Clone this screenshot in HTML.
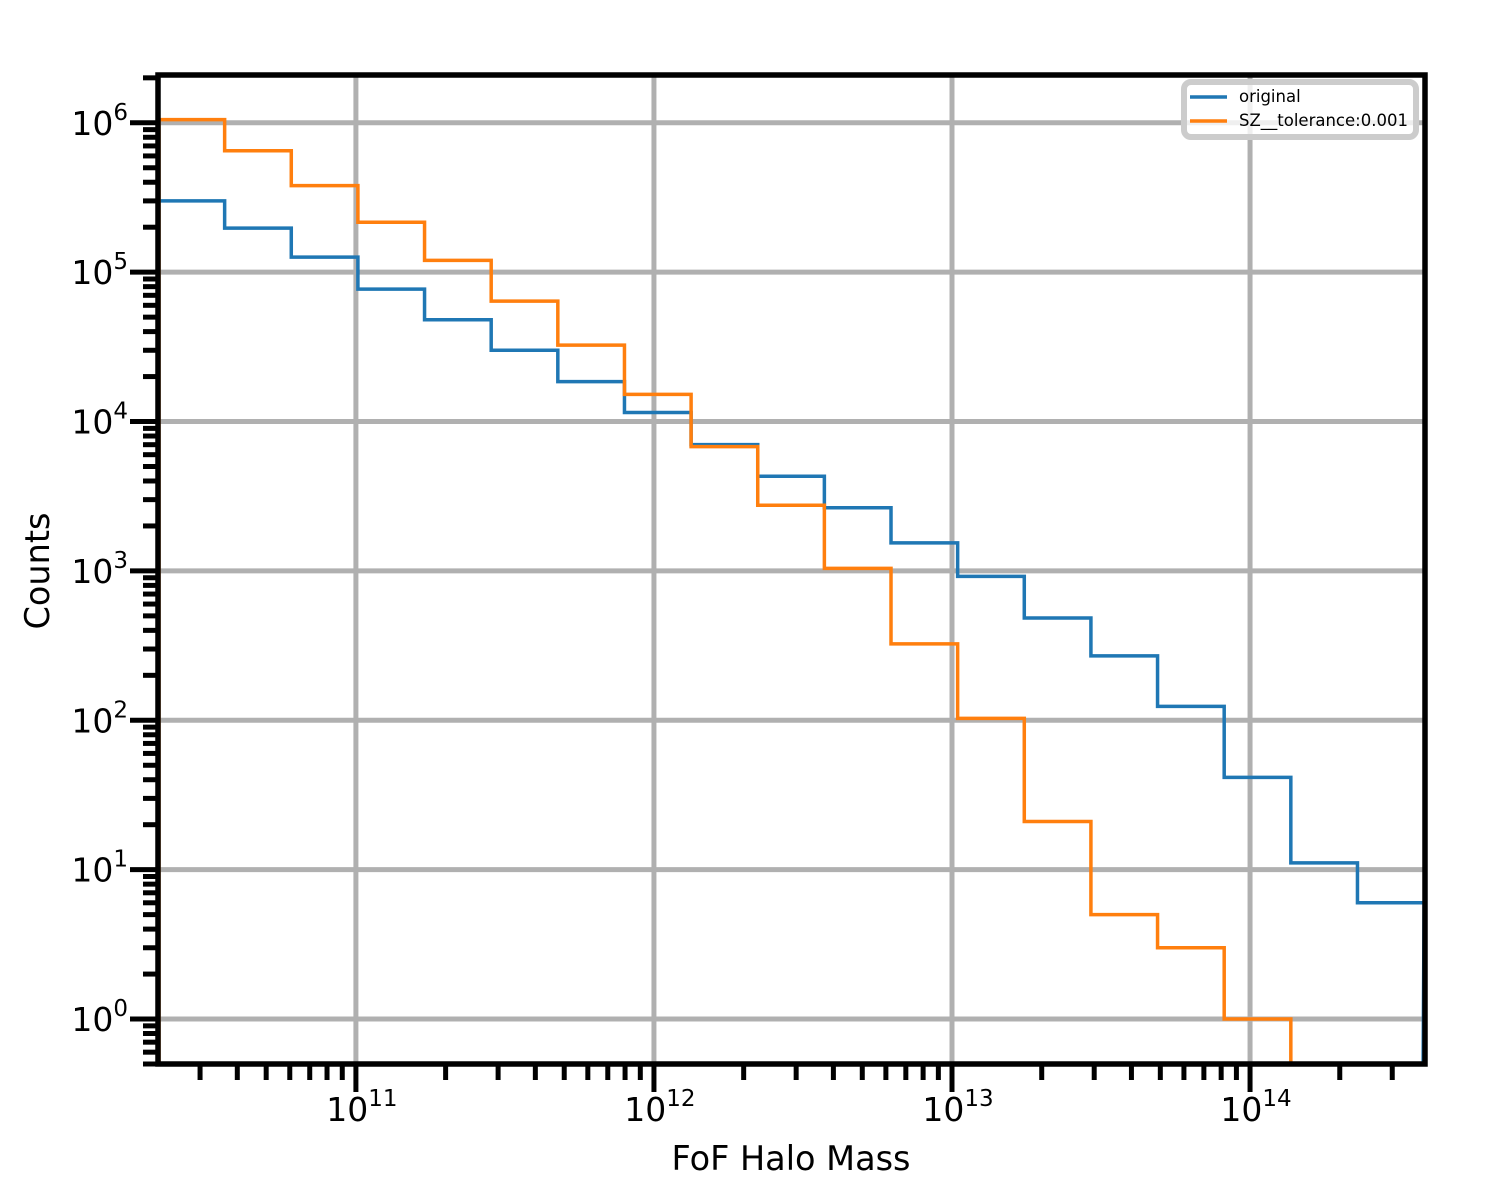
<!DOCTYPE html>
<html><head><meta charset="utf-8"><style>
html,body{margin:0;padding:0;background:#fff}
svg{display:block;font-family:"DejaVu Sans","Liberation Sans",sans-serif}
</style></head><body>
<svg id="chart" width="1500" height="1200" viewBox="0 0 1500 1200" xmlns="http://www.w3.org/2000/svg"></svg>
<script>
const binStart = 10.336, binEnd = 14.584, nBins = 19;
const originalCounts = [3.0e5,1.97e5,1.26e5,7.7e4,4.8e4,3.0e4,1.85e4,1.15e4,7.0e3,4.3e3,2.65e3,1.54e3,920,484,270,124,41.5,11.1,6.0];
const szCounts = [1.05e6,6.5e5,3.8e5,2.16e5,1.2e5,6.4e4,3.25e4,1.52e4,6.8e3,2.75e3,1.04e3,325,103,21,5,3,1,0,0];
const xTickExps = [11,12,13,14];
const yTickExps = [0,1,2,3,4,5,6];
const seriesNames = ["original","SZ__tolerance:0.001"];

const L=158,R=1425,T=75,B=1064;
const xMin=10.336,xMax=14.587,yMin=Math.log10(0.5),yMax=6.32;
const X=lg=>L+(lg-xMin)/(xMax-xMin)*(R-L);
const Y=v=>{const lg=v>0?Math.log10(v):yMin-1;return Math.min(B,B-(lg-yMin)/(yMax-yMin)*(B-T));};
const svg=document.getElementById('chart');
const NS='http://www.w3.org/2000/svg';
function mk(tag,attrs,parent){const e=document.createElementNS(NS,tag);for(const k in attrs)e.setAttribute(k,attrs[k]);(parent||svg).appendChild(e);return e;}

const grid=mk('g',{});


xTickExps.forEach(e=>{const l=mk('line',{x1:X(e),x2:X(e),y1:T,y2:B,stroke:'#b0b0b0','stroke-width':5},grid);

});
yTickExps.forEach(e=>{const l=mk('line',{x1:L,x2:R,y1:Y(Math.pow(10,e)),y2:Y(Math.pow(10,e)),stroke:'#b0b0b0','stroke-width':5},grid);

});

const colors=['#1f77b4','#ff7f0e'];
[originalCounts,szCounts].forEach((arr,si)=>{
  const w=(binEnd-binStart)/nBins;
  let d=`M${X(binStart)+si},${B}`;
  arr.forEach((v,i)=>{const x0=X(binStart+i*w),x1=X(binStart+(i+1)*w);const y=Y(v);d+=` L${i==0?x0+si:x0},${y} L${x1},${y}`;});
  d+=` L${X(binEnd)-1},${B}`;
  const p=mk('path',{d:d,fill:'none',stroke:colors[si],'stroke-width':3.5});
  
  
});

const ticks=mk('g',{stroke:'#000','stroke-width':5});


for(let e=10;e<=14;e++){for(let m=1;m<10;m++){const lg=e+Math.log10(m);if(lg<xMin||lg>xMax)continue;
  mk('line',{x1:X(lg),x2:X(lg),y1:B,y2:B+(m==1?28:16)},ticks);}}
for(let e=-1;e<=6;e++){for(let m=1;m<10;m++){const lg=e+Math.log10(m);if(lg<yMin-0.001||lg>yMax)continue;
  const y=B-(lg-yMin)/(yMax-yMin)*(B-T);mk('line',{x1:L-(m==1?28:15),x2:L,y1:y,y2:y},ticks);}}

const sp=mk('rect',{x:L,y:T,width:R-L,height:B-T,fill:'none',stroke:'#000','stroke-width':5.5});



xTickExps.forEach(e=>{const t=mk('text',{x:X(e)+6,y:1121,'font-size':33,'text-anchor':'middle'});


t.innerHTML=`10<tspan dy="-15" font-size="23">${e}</tspan>`;});
yTickExps.forEach(e=>{const y=Y(Math.pow(10,e));const t=mk('text',{x:128,y:y+12,'font-size':33,'text-anchor':'end'});


t.innerHTML=`10<tspan dy="-15" font-size="23">${e}</tspan>`;});

const xt=mk('text',{x:791,y:1170,'font-size':33.5,'text-anchor':'middle'});xt.textContent='FoF Halo Mass';


const yt=mk('text',{x:0,y:0,'font-size':33.5,'text-anchor':'middle',transform:'translate(49,571) rotate(-90)'});yt.textContent='Counts';



const lg=mk('g',{});


mk('rect',{x:1184,y:82,width:232,height:55,rx:7,fill:'#fff','fill-opacity':0.8,stroke:'#cccccc','stroke-width':6},lg);
seriesNames.forEach((n,i)=>{const y=97+i*24;
  const e=mk('g',{},lg);
  
  
  mk('line',{x1:1190,x2:1227,y1:y,y2:y,stroke:colors[i],'stroke-width':3.5},e);
  const t=mk('text',{x:1239,y:y+5,'font-size':16.5},e);t.textContent=n;});
</script>
</body></html>
